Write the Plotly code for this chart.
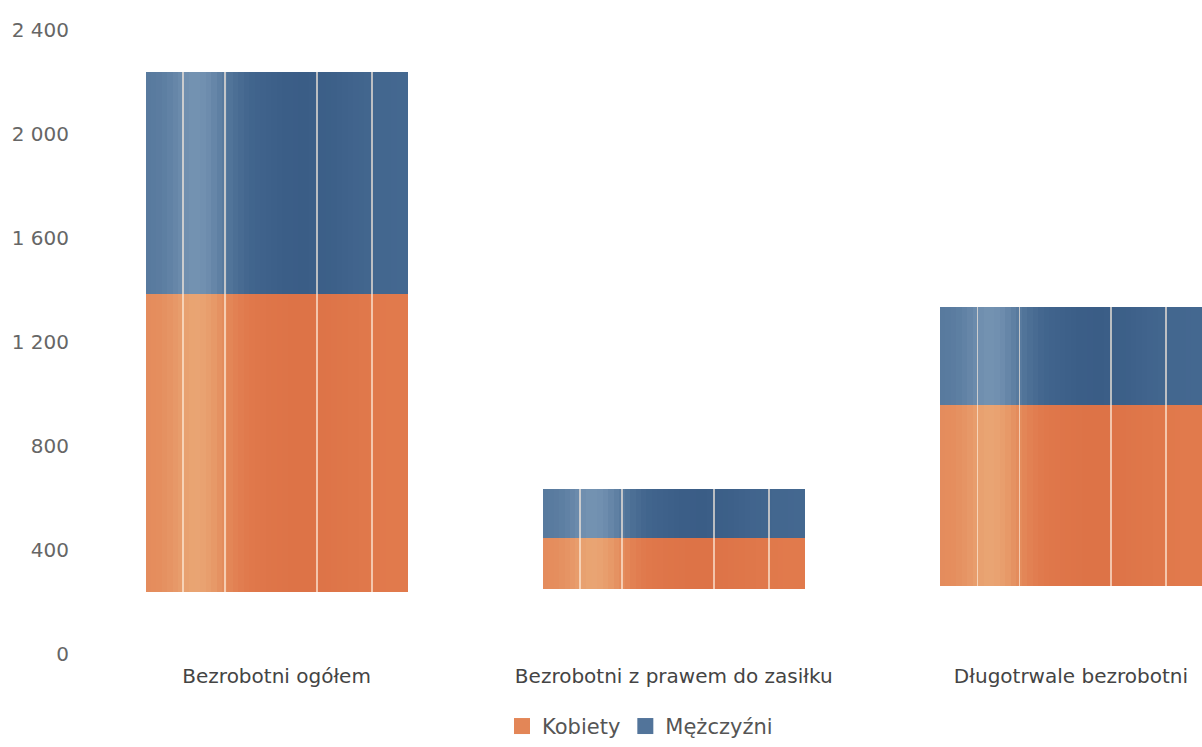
import math
import plotly.graph_objects as go

# ---- data ----
categories = ["Bezrobotni ogółem", "Bezrobotni z prawem do zasiłku", "Długotrwale bezrobotni"]
floor_level = [240, 250, 260]          # visual floor of the bars
kobiety = [1143, 196, 697]
mezczyzni = [857, 190, 377]
tick_vals = [0, 400, 800, 1200, 1600, 2000, 2400]
tick_text = ["0", "400", "800", "1 200", "1 600", "2 000", "2 400"]

# ---- style ----
BW = 0.66
N = 48
FONT = "DejaVu Sans, sans-serif"


def mix(c1, c2, a):
    return tuple(c1[i] + (c2[i] - c1[i]) * a for i in range(3))


def rgb(c):
    return "rgb(%d,%d,%d)" % tuple(int(round(v)) for v in c)


def profile(t):
    h = math.exp(-((t - 0.2) / 0.11) ** 2)
    l = max(0.0, 1 - t / 0.4)          # left part lighter
    d = math.exp(-((t - 0.6) / 0.2) ** 2)
    return h, l, d


series = [
    ("Kobiety", kobiety, floor_level,
     (225, 122, 76), (234, 170, 120), (218, 110, 68)),
    ("Mężczyźni", mezczyzni, [f + k for f, k in zip(floor_level, kobiety)],
     (68, 104, 144), (122, 152, 182), (52, 86, 128)),
]

fig = go.Figure()
for name, vals, bases, main, light, dark in series:
    for k in range(N):
        t = (k + 0.5) / N
        h, l, d = profile(t)
        c = mix(main, dark, d * 0.6)
        c = mix(c, light, min(1.0, 0.35 * l + 0.7 * h))
        fig.add_trace(go.Bar(
            x=categories, y=vals, base=bases,
            width=BW / N * 1.08, offset=-BW / 2 + k * BW / N,
            marker=dict(color=rgb(c), line=dict(width=0)),
            showlegend=False, hoverinfo="skip"))
    for t in [0.14, 0.30, 0.65, 0.86]:
        fig.add_trace(go.Bar(
            x=categories, y=vals, base=bases,
            width=0.004, offset=-BW / 2 + t * BW,
            marker=dict(color="rgba(255,240,225,0.65)", line=dict(width=0)),
            showlegend=False, hoverinfo="skip"))
    # legend entry (larger square swatch)
    fig.add_trace(go.Scatter(
        x=[None], y=[None], mode="markers", name=name,
        marker=dict(symbol="square", size=18, color=rgb(mix(main, light, 0.25)),
                    line=dict(width=0))))

fig.update_layout(
    barmode="overlay",
    width=1202, height=747,
    margin=dict(l=78, r=0, t=30, b=87),
    paper_bgcolor="white", plot_bgcolor="white",
    font=dict(family=FONT, color="#555555", size=20),
    xaxis=dict(range=[-0.5, 2.33], showgrid=False, zeroline=False,
               showline=False, ticks="", tickfont=dict(size=20, color="#444444"),
               ticklabelstandoff=8),
    yaxis=dict(range=[0, 2400], tickvals=tick_vals, ticktext=tick_text,
               showgrid=False, zeroline=False, showline=False, ticks="",
               tickfont=dict(size=20, color="#666666"), ticklabelstandoff=8),
    legend=dict(orientation="h", x=0.5, xanchor="center", y=-0.116,
                yanchor="middle", font=dict(size=21, color="#555555"),
                itemwidth=30, itemsizing="trace", tracegroupgap=0),
    bargap=0,
)

fig.write_html(
    "out.html",
    config={"displayModeBar": False},
    post_script="document.body.style.margin='0';document.body.style.overflow='hidden';",
)
